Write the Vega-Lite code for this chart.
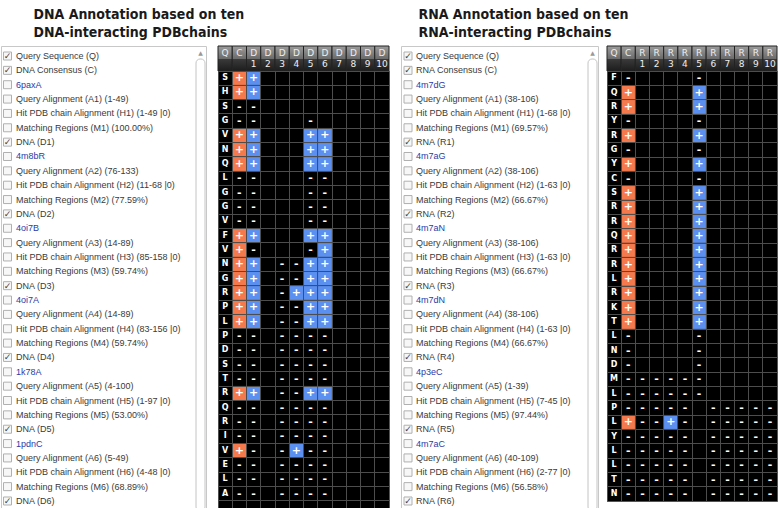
{
  "$schema": "https://vega.github.io/schema/vega-lite/v6.json",
  "padding": {"left": 0, "top": 7, "right": 0, "bottom": 0},
  "background": "white",
  "config": {
    "view": {"stroke": null},
    "title": {"font": "DejaVu Sans Condensed", "fontSize": 14, "fontWeight": "bold", "color": "#1a1a1a", "lineHeight": 18, "anchor": "start", "offset": 6},
    "text": {"font": "Liberation Sans"},
    "axis": {"minExtent": 0, "maxExtent": 0, "labels": false, "ticks": false, "domain": false, "title": null}
  },
  "spacing": 10,
  "hconcat": [
    {
      "title": {"text": ["DNA Annotation based on ten", "DNA-interacting PDBchains"], "dx": 33},
      "spacing": 12,
      "bounds": "flush",
      "hconcat": [
        {
          "width": 205,
          "height": 465,
          "view": {"fill": "white", "stroke": "#c8c8c8"},
          "data": {"values": [
            {"n": 1, "t": "Query Sequence (Q)", "k": 1, "a": 0},
            {"n": 2, "t": "DNA Consensus (C)", "k": 1, "a": 0},
            {"n": 3, "t": "6paxA", "k": 0, "a": 1},
            {"n": 4, "t": "Query Alignment (A1) (1-49)", "k": 0, "a": 0},
            {"n": 5, "t": "Hit PDB chain Alignment (H1) (1-49 |0)", "k": 0, "a": 0},
            {"n": 6, "t": "Matching Regions (M1) (100.00%)", "k": 0, "a": 0},
            {"n": 7, "t": "DNA (D1)", "k": 1, "a": 0},
            {"n": 8, "t": "4m8bR", "k": 0, "a": 1},
            {"n": 9, "t": "Query Alignment (A2) (76-133)", "k": 0, "a": 0},
            {"n": 10, "t": "Hit PDB chain Alignment (H2) (11-68 |0)", "k": 0, "a": 0},
            {"n": 11, "t": "Matching Regions (M2) (77.59%)", "k": 0, "a": 0},
            {"n": 12, "t": "DNA (D2)", "k": 1, "a": 0},
            {"n": 13, "t": "4oi7B", "k": 0, "a": 1},
            {"n": 14, "t": "Query Alignment (A3) (14-89)", "k": 0, "a": 0},
            {"n": 15, "t": "Hit PDB chain Alignment (H3) (85-158 |0)", "k": 0, "a": 0},
            {"n": 16, "t": "Matching Regions (M3) (59.74%)", "k": 0, "a": 0},
            {"n": 17, "t": "DNA (D3)", "k": 1, "a": 0},
            {"n": 18, "t": "4oi7A", "k": 0, "a": 1},
            {"n": 19, "t": "Query Alignment (A4) (14-89)", "k": 0, "a": 0},
            {"n": 20, "t": "Hit PDB chain Alignment (H4) (83-156 |0)", "k": 0, "a": 0},
            {"n": 21, "t": "Matching Regions (M4) (59.74%)", "k": 0, "a": 0},
            {"n": 22, "t": "DNA (D4)", "k": 1, "a": 0},
            {"n": 23, "t": "1k78A", "k": 0, "a": 1},
            {"n": 24, "t": "Query Alignment (A5) (4-100)", "k": 0, "a": 0},
            {"n": 25, "t": "Hit PDB chain Alignment (H5) (1-97 |0)", "k": 0, "a": 0},
            {"n": 26, "t": "Matching Regions (M5) (53.00%)", "k": 0, "a": 0},
            {"n": 27, "t": "DNA (D5)", "k": 1, "a": 0},
            {"n": 28, "t": "1pdnC", "k": 0, "a": 1},
            {"n": 29, "t": "Query Alignment (A6) (5-49)", "k": 0, "a": 0},
            {"n": 30, "t": "Hit PDB chain Alignment (H6) (4-48 |0)", "k": 0, "a": 0},
            {"n": 31, "t": "Matching Regions (M6) (68.89%)", "k": 0, "a": 0},
            {"n": 32, "t": "DNA (D6)", "k": 1, "a": 0}
          ]},
          "layer": [
            {
              "data": {"values": [{}]},
              "mark": {"type": "rect", "fill": "white", "stroke": "#c4c4c4", "strokeWidth": 1, "cornerRadius": 4, "xOffset": -10, "x2Offset": -1, "yOffset": 13},
              "encoding": {
                "x": {"datum": 1, "type": "quantitative", "scale": {"domain": [0, 1]}, "axis": null},
                "x2": {"datum": 1}
              }
            },
            {
              "data": {"values": [{}]},
              "mark": {"type": "text", "text": "▲", "fontSize": 6, "color": "#999", "dx": -5.5, "dy": -3, "font": "DejaVu Sans"},
              "encoding": {
                "x": {"datum": 1, "type": "quantitative", "scale": {"domain": [0, 1]}, "axis": null},
                "y": {"datum": 1, "type": "ordinal", "scale": {"type": "point", "padding": 0.697}, "axis": null}
              }
            },
            {
              "mark": {"type": "point", "shape": "square", "filled": true, "fill": "#f7f7f7", "stroke": "#b0b0b0", "strokeWidth": 1, "size": 64, "opacity": 1, "xOffset": 6.5},
              "encoding": {
                "x": {"datum": 0, "type": "quantitative", "scale": {"domain": [0, 1]}, "axis": null},
                "y": {"field": "n", "type": "ordinal", "scale": {"type": "point", "padding": 0.697}, "axis": null}
              }
            },
            {
              "transform": [{"filter": "datum.k == 1"}],
              "mark": {"type": "text", "text": "✓", "fontSize": 9, "color": "#444", "dx": 6.5, "font": "DejaVu Sans"},
              "encoding": {
                "x": {"datum": 0, "type": "quantitative", "scale": {"domain": [0, 1]}, "axis": null},
                "y": {"field": "n", "type": "ordinal", "scale": {"type": "point", "padding": 0.697}, "axis": null}
              }
            },
            {
              "mark": {"type": "text", "align": "left", "fontSize": 9, "dx": 15, "baseline": "middle"},
              "encoding": {
                "x": {"datum": 0, "type": "quantitative", "scale": {"domain": [0, 1]}, "axis": null},
                "y": {"field": "n", "type": "ordinal", "scale": {"type": "point", "padding": 0.697}, "axis": null},
                "text": {"field": "t"},
                "color": {"condition": {"test": "datum.a == 1", "value": "#2b3aa8"}, "value": "#3a3a3a"}
              }
            }
          ]
        },
        {
          "spacing": 0,
          "bounds": "flush",
          "vconcat": [
            {
              "width": 171,
              "height": 25,
              "data": {"values": [
                {"c": "Q", "l": 1, "t": "Q"}, {"c": "C", "l": 1, "t": "C"},
                {"c": "D1", "l": 1, "t": "D"}, {"c": "D1", "l": 2, "t": "1"},
                {"c": "D2", "l": 1, "t": "D"}, {"c": "D2", "l": 2, "t": "2"},
                {"c": "D3", "l": 1, "t": "D"}, {"c": "D3", "l": 2, "t": "3"},
                {"c": "D4", "l": 1, "t": "D"}, {"c": "D4", "l": 2, "t": "4"},
                {"c": "D5", "l": 1, "t": "D"}, {"c": "D5", "l": 2, "t": "5"},
                {"c": "D6", "l": 1, "t": "D"}, {"c": "D6", "l": 2, "t": "6"},
                {"c": "D7", "l": 1, "t": "D"}, {"c": "D7", "l": 2, "t": "7"},
                {"c": "D8", "l": 1, "t": "D"}, {"c": "D8", "l": 2, "t": "8"},
                {"c": "D9", "l": 1, "t": "D"}, {"c": "D9", "l": 2, "t": "9"},
                {"c": "D10", "l": 1, "t": "D"}, {"c": "D10", "l": 2, "t": "10"}
              ]},
              "encoding": {
                "x": {"field": "c", "type": "nominal", "scale": {"domain": ["Q", "C", "D1", "D2", "D3", "D4", "D5", "D6", "D7", "D8", "D9", "D10"], "paddingInner": 0, "paddingOuter": 0}, "axis": null}
              },
              "layer": [
                {
                  "transform": [{"filter": "datum.l == 1"}],
                  "mark": {"type": "rect", "stroke": "#222", "strokeWidth": 1, "fill": {"gradient": "linear", "x1": 0, "y1": 0, "x2": 0, "y2": 1, "stops": [{"offset": 0, "color": "#9c9c9c"}, {"offset": 0.5, "color": "#6c6c6c"}, {"offset": 0.53, "color": "#3a3a3a"}, {"offset": 1, "color": "#1c1c1c"}]}}
                },
                {
                  "mark": {"type": "text", "fontSize": 9, "font": "DejaVu Sans", "color": "#eeeeee", "baseline": "middle"},
                  "encoding": {
                    "y": {"field": "l", "type": "ordinal", "scale": {"type": "point", "padding": 0.6}, "axis": null},
                    "text": {"field": "t"}
                  }
                }
              ]
            },
            {
              "width": 171,
              "height": 444,
              "view": {"fill": "#000000", "stroke": "#555555"},
              "data": {"values": [
                {"r": 1, "c": "Q", "v": "S"}, {"r": 1, "c": "C", "v": "+"}, {"r": 1, "c": "D1", "v": "+"},
                {"r": 2, "c": "Q", "v": "H"}, {"r": 2, "c": "C", "v": "+"}, {"r": 2, "c": "D1", "v": "+"},
                {"r": 3, "c": "Q", "v": "S"}, {"r": 3, "c": "C", "v": "-"}, {"r": 3, "c": "D1", "v": "-"},
                {"r": 4, "c": "Q", "v": "G"}, {"r": 4, "c": "C", "v": "-"}, {"r": 4, "c": "D1", "v": "-"}, {"r": 4, "c": "D5", "v": "-"},
                {"r": 5, "c": "Q", "v": "V"}, {"r": 5, "c": "C", "v": "+"}, {"r": 5, "c": "D1", "v": "+"}, {"r": 5, "c": "D5", "v": "+"}, {"r": 5, "c": "D6", "v": "+"},
                {"r": 6, "c": "Q", "v": "N"}, {"r": 6, "c": "C", "v": "+"}, {"r": 6, "c": "D1", "v": "+"}, {"r": 6, "c": "D5", "v": "+"}, {"r": 6, "c": "D6", "v": "+"},
                {"r": 7, "c": "Q", "v": "Q"}, {"r": 7, "c": "C", "v": "+"}, {"r": 7, "c": "D1", "v": "+"}, {"r": 7, "c": "D5", "v": "+"}, {"r": 7, "c": "D6", "v": "+"},
                {"r": 8, "c": "Q", "v": "L"}, {"r": 8, "c": "C", "v": "-"}, {"r": 8, "c": "D1", "v": "-"}, {"r": 8, "c": "D5", "v": "-"}, {"r": 8, "c": "D6", "v": "-"},
                {"r": 9, "c": "Q", "v": "G"}, {"r": 9, "c": "C", "v": "-"}, {"r": 9, "c": "D1", "v": "-"}, {"r": 9, "c": "D5", "v": "-"}, {"r": 9, "c": "D6", "v": "-"},
                {"r": 10, "c": "Q", "v": "G"}, {"r": 10, "c": "C", "v": "-"}, {"r": 10, "c": "D1", "v": "-"}, {"r": 10, "c": "D5", "v": "-"}, {"r": 10, "c": "D6", "v": "-"},
                {"r": 11, "c": "Q", "v": "V"}, {"r": 11, "c": "C", "v": "-"}, {"r": 11, "c": "D1", "v": "-"}, {"r": 11, "c": "D5", "v": "-"}, {"r": 11, "c": "D6", "v": "-"},
                {"r": 12, "c": "Q", "v": "F"}, {"r": 12, "c": "C", "v": "+"}, {"r": 12, "c": "D1", "v": "+"}, {"r": 12, "c": "D5", "v": "+"}, {"r": 12, "c": "D6", "v": "+"},
                {"r": 13, "c": "Q", "v": "V"}, {"r": 13, "c": "C", "v": "+"}, {"r": 13, "c": "D1", "v": "-"}, {"r": 13, "c": "D5", "v": "-"}, {"r": 13, "c": "D6", "v": "+"},
                {"r": 14, "c": "Q", "v": "N"}, {"r": 14, "c": "C", "v": "+"}, {"r": 14, "c": "D1", "v": "+"}, {"r": 14, "c": "D3", "v": "-"}, {"r": 14, "c": "D4", "v": "-"}, {"r": 14, "c": "D5", "v": "+"}, {"r": 14, "c": "D6", "v": "+"},
                {"r": 15, "c": "Q", "v": "G"}, {"r": 15, "c": "C", "v": "+"}, {"r": 15, "c": "D1", "v": "+"}, {"r": 15, "c": "D3", "v": "-"}, {"r": 15, "c": "D4", "v": "-"}, {"r": 15, "c": "D5", "v": "+"}, {"r": 15, "c": "D6", "v": "+"},
                {"r": 16, "c": "Q", "v": "R"}, {"r": 16, "c": "C", "v": "+"}, {"r": 16, "c": "D1", "v": "+"}, {"r": 16, "c": "D3", "v": "-"}, {"r": 16, "c": "D4", "v": "+"}, {"r": 16, "c": "D5", "v": "+"}, {"r": 16, "c": "D6", "v": "+"},
                {"r": 17, "c": "Q", "v": "P"}, {"r": 17, "c": "C", "v": "+"}, {"r": 17, "c": "D1", "v": "+"}, {"r": 17, "c": "D3", "v": "-"}, {"r": 17, "c": "D4", "v": "-"}, {"r": 17, "c": "D5", "v": "+"}, {"r": 17, "c": "D6", "v": "+"},
                {"r": 18, "c": "Q", "v": "L"}, {"r": 18, "c": "C", "v": "+"}, {"r": 18, "c": "D1", "v": "+"}, {"r": 18, "c": "D3", "v": "-"}, {"r": 18, "c": "D4", "v": "-"}, {"r": 18, "c": "D5", "v": "+"}, {"r": 18, "c": "D6", "v": "+"},
                {"r": 19, "c": "Q", "v": "P"}, {"r": 19, "c": "C", "v": "-"}, {"r": 19, "c": "D1", "v": "-"}, {"r": 19, "c": "D3", "v": "-"}, {"r": 19, "c": "D4", "v": "-"}, {"r": 19, "c": "D5", "v": "-"}, {"r": 19, "c": "D6", "v": "-"},
                {"r": 20, "c": "Q", "v": "D"}, {"r": 20, "c": "C", "v": "-"}, {"r": 20, "c": "D1", "v": "-"}, {"r": 20, "c": "D3", "v": "-"}, {"r": 20, "c": "D4", "v": "-"}, {"r": 20, "c": "D5", "v": "-"}, {"r": 20, "c": "D6", "v": "-"},
                {"r": 21, "c": "Q", "v": "S"}, {"r": 21, "c": "C", "v": "-"}, {"r": 21, "c": "D1", "v": "-"}, {"r": 21, "c": "D3", "v": "-"}, {"r": 21, "c": "D4", "v": "-"}, {"r": 21, "c": "D5", "v": "-"}, {"r": 21, "c": "D6", "v": "-"},
                {"r": 22, "c": "Q", "v": "T"}, {"r": 22, "c": "C", "v": "-"}, {"r": 22, "c": "D1", "v": "-"}, {"r": 22, "c": "D3", "v": "-"}, {"r": 22, "c": "D4", "v": "-"}, {"r": 22, "c": "D5", "v": "-"}, {"r": 22, "c": "D6", "v": "-"},
                {"r": 23, "c": "Q", "v": "R"}, {"r": 23, "c": "C", "v": "+"}, {"r": 23, "c": "D1", "v": "+"}, {"r": 23, "c": "D3", "v": "-"}, {"r": 23, "c": "D4", "v": "-"}, {"r": 23, "c": "D5", "v": "+"}, {"r": 23, "c": "D6", "v": "+"},
                {"r": 24, "c": "Q", "v": "Q"}, {"r": 24, "c": "C", "v": "-"}, {"r": 24, "c": "D1", "v": "-"}, {"r": 24, "c": "D3", "v": "-"}, {"r": 24, "c": "D4", "v": "-"}, {"r": 24, "c": "D5", "v": "-"}, {"r": 24, "c": "D6", "v": "-"},
                {"r": 25, "c": "Q", "v": "R"}, {"r": 25, "c": "C", "v": "-"}, {"r": 25, "c": "D1", "v": "-"}, {"r": 25, "c": "D3", "v": "-"}, {"r": 25, "c": "D4", "v": "-"}, {"r": 25, "c": "D5", "v": "-"}, {"r": 25, "c": "D6", "v": "-"},
                {"r": 26, "c": "Q", "v": "I"}, {"r": 26, "c": "C", "v": "-"}, {"r": 26, "c": "D1", "v": "-"}, {"r": 26, "c": "D3", "v": "-"}, {"r": 26, "c": "D4", "v": "-"}, {"r": 26, "c": "D5", "v": "-"}, {"r": 26, "c": "D6", "v": "-"},
                {"r": 27, "c": "Q", "v": "V"}, {"r": 27, "c": "C", "v": "+"}, {"r": 27, "c": "D1", "v": "-"}, {"r": 27, "c": "D3", "v": "-"}, {"r": 27, "c": "D4", "v": "+"}, {"r": 27, "c": "D5", "v": "-"}, {"r": 27, "c": "D6", "v": "-"},
                {"r": 28, "c": "Q", "v": "E"}, {"r": 28, "c": "C", "v": "-"}, {"r": 28, "c": "D1", "v": "-"}, {"r": 28, "c": "D3", "v": "-"}, {"r": 28, "c": "D4", "v": "-"}, {"r": 28, "c": "D5", "v": "-"}, {"r": 28, "c": "D6", "v": "-"},
                {"r": 29, "c": "Q", "v": "L"}, {"r": 29, "c": "C", "v": "-"}, {"r": 29, "c": "D1", "v": "-"}, {"r": 29, "c": "D3", "v": "-"}, {"r": 29, "c": "D4", "v": "-"}, {"r": 29, "c": "D5", "v": "-"}, {"r": 29, "c": "D6", "v": "-"},
                {"r": 30, "c": "Q", "v": "A"}, {"r": 30, "c": "C", "v": "-"}, {"r": 30, "c": "D1", "v": "-"}, {"r": 30, "c": "D3", "v": "-"}, {"r": 30, "c": "D4", "v": "-"}, {"r": 30, "c": "D5", "v": "-"}, {"r": 30, "c": "D6", "v": "-"}
              ]},
              "encoding": {
                "x": {"field": "c", "type": "nominal", "scale": {"domain": ["Q", "C", "D1", "D2", "D3", "D4", "D5", "D6", "D7", "D8", "D9", "D10"], "paddingInner": 0, "paddingOuter": 0}, "axis": {"orient": "top", "grid": true, "bandPosition": 0, "gridColor": "#4d4d4d", "gridWidth": 1}},
                "y": {"field": "r", "type": "ordinal", "scale": {"domain": [1, 2, 3, 4, 5, 6, 7, 8, 9, 10, 11, 12, 13, 14, 15, 16, 17, 18, 19, 20, 21, 22, 23, 24, 25, 26, 27, 28, 29, 30, 31], "paddingInner": 0, "paddingOuter": 0}, "axis": {"grid": true, "bandPosition": 0, "gridColor": "#4d4d4d", "gridWidth": 1}}
              },
              "layer": [
                {
                  "transform": [{"filter": "datum.v == '+'"}],
                  "mark": {"type": "rect", "stroke": "#3a3a3a", "strokeWidth": 0.5, "strokeOpacity": 0.5},
                  "encoding": {
                    "color": {"condition": {"test": "datum.c == 'C'", "value": "#f47a4e"}, "value": "#5b8ff0"}
                  }
                },
                {
                  "mark": {"type": "text", "font": "DejaVu Sans", "fontWeight": "bold", "color": "#ffffff", "baseline": "middle"},
                  "encoding": {
                    "text": {"field": "v"},
                    "size": {"condition": {"test": "datum.c == 'Q'", "value": 8}, "value": 11}
                  }
                }
              ]
            }
          ]
        }
      ]
    },
    {
      "title": {"text": ["RNA Annotation based on ten", "RNA-interacting PDBchains"], "dx": 18},
      "spacing": 9,
      "bounds": "flush",
      "hconcat": [
        {
          "width": 197,
          "height": 465,
          "view": {"fill": "white", "stroke": "#c8c8c8"},
          "data": {"values": [
            {"n": 1, "t": "Query Sequence (Q)", "k": 1, "a": 0},
            {"n": 2, "t": "RNA Consensus (C)", "k": 1, "a": 0},
            {"n": 3, "t": "4m7dG", "k": 0, "a": 1},
            {"n": 4, "t": "Query Alignment (A1) (38-106)", "k": 0, "a": 0},
            {"n": 5, "t": "Hit PDB chain Alignment (H1) (1-68 |0)", "k": 0, "a": 0},
            {"n": 6, "t": "Matching Regions (M1) (69.57%)", "k": 0, "a": 0},
            {"n": 7, "t": "RNA (R1)", "k": 1, "a": 0},
            {"n": 8, "t": "4m7aG", "k": 0, "a": 1},
            {"n": 9, "t": "Query Alignment (A2) (38-106)", "k": 0, "a": 0},
            {"n": 10, "t": "Hit PDB chain Alignment (H2) (1-63 |0)", "k": 0, "a": 0},
            {"n": 11, "t": "Matching Regions (M2) (66.67%)", "k": 0, "a": 0},
            {"n": 12, "t": "RNA (R2)", "k": 1, "a": 0},
            {"n": 13, "t": "4m7aN", "k": 0, "a": 1},
            {"n": 14, "t": "Query Alignment (A3) (38-106)", "k": 0, "a": 0},
            {"n": 15, "t": "Hit PDB chain Alignment (H3) (1-63 |0)", "k": 0, "a": 0},
            {"n": 16, "t": "Matching Regions (M3) (66.67%)", "k": 0, "a": 0},
            {"n": 17, "t": "RNA (R3)", "k": 1, "a": 0},
            {"n": 18, "t": "4m7dN", "k": 0, "a": 1},
            {"n": 19, "t": "Query Alignment (A4) (38-106)", "k": 0, "a": 0},
            {"n": 20, "t": "Hit PDB chain Alignment (H4) (1-63 |0)", "k": 0, "a": 0},
            {"n": 21, "t": "Matching Regions (M4) (66.67%)", "k": 0, "a": 0},
            {"n": 22, "t": "RNA (R4)", "k": 1, "a": 0},
            {"n": 23, "t": "4p3eC", "k": 0, "a": 1},
            {"n": 24, "t": "Query Alignment (A5) (1-39)", "k": 0, "a": 0},
            {"n": 25, "t": "Hit PDB chain Alignment (H5) (7-45 |0)", "k": 0, "a": 0},
            {"n": 26, "t": "Matching Regions (M5) (97.44%)", "k": 0, "a": 0},
            {"n": 27, "t": "RNA (R5)", "k": 1, "a": 0},
            {"n": 28, "t": "4m7aC", "k": 0, "a": 1},
            {"n": 29, "t": "Query Alignment (A6) (40-109)", "k": 0, "a": 0},
            {"n": 30, "t": "Hit PDB chain Alignment (H6) (2-77 |0)", "k": 0, "a": 0},
            {"n": 31, "t": "Matching Regions (M6) (56.58%)", "k": 0, "a": 0},
            {"n": 32, "t": "RNA (R6)", "k": 1, "a": 0}
          ]},
          "layer": [
            {
              "data": {"values": [{}]},
              "mark": {"type": "rect", "fill": "white", "stroke": "#c4c4c4", "strokeWidth": 1, "cornerRadius": 4, "xOffset": -10, "x2Offset": -1, "yOffset": 13},
              "encoding": {
                "x": {"datum": 1, "type": "quantitative", "scale": {"domain": [0, 1]}, "axis": null},
                "x2": {"datum": 1}
              }
            },
            {
              "data": {"values": [{}]},
              "mark": {"type": "text", "text": "▲", "fontSize": 6, "color": "#999", "dx": -5.5, "dy": -3, "font": "DejaVu Sans"},
              "encoding": {
                "x": {"datum": 1, "type": "quantitative", "scale": {"domain": [0, 1]}, "axis": null},
                "y": {"datum": 1, "type": "ordinal", "scale": {"type": "point", "padding": 0.697}, "axis": null}
              }
            },
            {
              "mark": {"type": "point", "shape": "square", "filled": true, "fill": "#f7f7f7", "stroke": "#b0b0b0", "strokeWidth": 1, "size": 64, "opacity": 1, "xOffset": 7},
              "encoding": {
                "x": {"datum": 0, "type": "quantitative", "scale": {"domain": [0, 1]}, "axis": null},
                "y": {"field": "n", "type": "ordinal", "scale": {"type": "point", "padding": 0.697}, "axis": null}
              }
            },
            {
              "transform": [{"filter": "datum.k == 1"}],
              "mark": {"type": "text", "text": "✓", "fontSize": 9, "color": "#444", "dx": 7, "font": "DejaVu Sans"},
              "encoding": {
                "x": {"datum": 0, "type": "quantitative", "scale": {"domain": [0, 1]}, "axis": null},
                "y": {"field": "n", "type": "ordinal", "scale": {"type": "point", "padding": 0.697}, "axis": null}
              }
            },
            {
              "mark": {"type": "text", "align": "left", "fontSize": 9, "dx": 15, "baseline": "middle"},
              "encoding": {
                "x": {"datum": 0, "type": "quantitative", "scale": {"domain": [0, 1]}, "axis": null},
                "y": {"field": "n", "type": "ordinal", "scale": {"type": "point", "padding": 0.697}, "axis": null},
                "text": {"field": "t"},
                "color": {"condition": {"test": "datum.a == 1", "value": "#2b3aa8"}, "value": "#3a3a3a"}
              }
            }
          ]
        },
        {
          "spacing": 0,
          "bounds": "flush",
          "vconcat": [
            {
              "width": 170,
              "height": 25,
              "data": {"values": [
                {"c": "Q", "l": 1, "t": "Q"}, {"c": "C", "l": 1, "t": "C"},
                {"c": "R1", "l": 1, "t": "R"}, {"c": "R1", "l": 2, "t": "1"},
                {"c": "R2", "l": 1, "t": "R"}, {"c": "R2", "l": 2, "t": "2"},
                {"c": "R3", "l": 1, "t": "R"}, {"c": "R3", "l": 2, "t": "3"},
                {"c": "R4", "l": 1, "t": "R"}, {"c": "R4", "l": 2, "t": "4"},
                {"c": "R5", "l": 1, "t": "R"}, {"c": "R5", "l": 2, "t": "5"},
                {"c": "R6", "l": 1, "t": "R"}, {"c": "R6", "l": 2, "t": "6"},
                {"c": "R7", "l": 1, "t": "R"}, {"c": "R7", "l": 2, "t": "7"},
                {"c": "R8", "l": 1, "t": "R"}, {"c": "R8", "l": 2, "t": "8"},
                {"c": "R9", "l": 1, "t": "R"}, {"c": "R9", "l": 2, "t": "9"},
                {"c": "R10", "l": 1, "t": "R"}, {"c": "R10", "l": 2, "t": "10"}
              ]},
              "encoding": {
                "x": {"field": "c", "type": "nominal", "scale": {"domain": ["Q", "C", "R1", "R2", "R3", "R4", "R5", "R6", "R7", "R8", "R9", "R10"], "paddingInner": 0, "paddingOuter": 0}, "axis": null}
              },
              "layer": [
                {
                  "transform": [{"filter": "datum.l == 1"}],
                  "mark": {"type": "rect", "stroke": "#222", "strokeWidth": 1, "fill": {"gradient": "linear", "x1": 0, "y1": 0, "x2": 0, "y2": 1, "stops": [{"offset": 0, "color": "#9c9c9c"}, {"offset": 0.5, "color": "#6c6c6c"}, {"offset": 0.53, "color": "#3a3a3a"}, {"offset": 1, "color": "#1c1c1c"}]}}
                },
                {
                  "mark": {"type": "text", "fontSize": 9, "font": "DejaVu Sans", "color": "#eeeeee", "baseline": "middle"},
                  "encoding": {
                    "y": {"field": "l", "type": "ordinal", "scale": {"type": "point", "padding": 0.6}, "axis": null},
                    "text": {"field": "t"}
                  }
                }
              ]
            },
            {
              "width": 170,
              "height": 430,
              "view": {"fill": "#000000", "stroke": "#555555"},
              "data": {"values": [
                {"r": 1, "c": "Q", "v": "F"}, {"r": 1, "c": "C", "v": "-"}, {"r": 1, "c": "R5", "v": "-"},
                {"r": 2, "c": "Q", "v": "Q"}, {"r": 2, "c": "C", "v": "+"}, {"r": 2, "c": "R5", "v": "+"},
                {"r": 3, "c": "Q", "v": "R"}, {"r": 3, "c": "C", "v": "+"}, {"r": 3, "c": "R5", "v": "+"},
                {"r": 4, "c": "Q", "v": "Y"}, {"r": 4, "c": "C", "v": "-"}, {"r": 4, "c": "R5", "v": "-"},
                {"r": 5, "c": "Q", "v": "R"}, {"r": 5, "c": "C", "v": "+"}, {"r": 5, "c": "R5", "v": "+"},
                {"r": 6, "c": "Q", "v": "G"}, {"r": 6, "c": "C", "v": "-"}, {"r": 6, "c": "R5", "v": "-"},
                {"r": 7, "c": "Q", "v": "Y"}, {"r": 7, "c": "C", "v": "+"}, {"r": 7, "c": "R5", "v": "+"},
                {"r": 8, "c": "Q", "v": "C"}, {"r": 8, "c": "C", "v": "-"}, {"r": 8, "c": "R5", "v": "-"},
                {"r": 9, "c": "Q", "v": "S"}, {"r": 9, "c": "C", "v": "+"}, {"r": 9, "c": "R5", "v": "+"},
                {"r": 10, "c": "Q", "v": "R"}, {"r": 10, "c": "C", "v": "+"}, {"r": 10, "c": "R5", "v": "+"},
                {"r": 11, "c": "Q", "v": "R"}, {"r": 11, "c": "C", "v": "+"}, {"r": 11, "c": "R5", "v": "+"},
                {"r": 12, "c": "Q", "v": "Q"}, {"r": 12, "c": "C", "v": "+"}, {"r": 12, "c": "R5", "v": "+"},
                {"r": 13, "c": "Q", "v": "R"}, {"r": 13, "c": "C", "v": "+"}, {"r": 13, "c": "R5", "v": "+"},
                {"r": 14, "c": "Q", "v": "R"}, {"r": 14, "c": "C", "v": "+"}, {"r": 14, "c": "R5", "v": "+"},
                {"r": 15, "c": "Q", "v": "L"}, {"r": 15, "c": "C", "v": "+"}, {"r": 15, "c": "R5", "v": "+"},
                {"r": 16, "c": "Q", "v": "R"}, {"r": 16, "c": "C", "v": "+"}, {"r": 16, "c": "R5", "v": "+"},
                {"r": 17, "c": "Q", "v": "K"}, {"r": 17, "c": "C", "v": "+"}, {"r": 17, "c": "R5", "v": "+"},
                {"r": 18, "c": "Q", "v": "T"}, {"r": 18, "c": "C", "v": "+"}, {"r": 18, "c": "R5", "v": "+"},
                {"r": 19, "c": "Q", "v": "L"}, {"r": 19, "c": "C", "v": "-"}, {"r": 19, "c": "R5", "v": "-"},
                {"r": 20, "c": "Q", "v": "N"}, {"r": 20, "c": "C", "v": "-"}, {"r": 20, "c": "R5", "v": "-"},
                {"r": 21, "c": "Q", "v": "D"}, {"r": 21, "c": "C", "v": "-"}, {"r": 21, "c": "R5", "v": "-"},
                {"r": 22, "c": "Q", "v": "M"}, {"r": 22, "c": "C", "v": "-"}, {"r": 22, "c": "R1", "v": "-"}, {"r": 22, "c": "R2", "v": "-"}, {"r": 22, "c": "R3", "v": "-"}, {"r": 22, "c": "R4", "v": "-"}, {"r": 22, "c": "R5", "v": "-"},
                {"r": 23, "c": "Q", "v": "L"}, {"r": 23, "c": "C", "v": "-"}, {"r": 23, "c": "R1", "v": "-"}, {"r": 23, "c": "R2", "v": "-"}, {"r": 23, "c": "R3", "v": "-"}, {"r": 23, "c": "R4", "v": "-"}, {"r": 23, "c": "R5", "v": "-"},
                {"r": 24, "c": "Q", "v": "P"}, {"r": 24, "c": "C", "v": "-"}, {"r": 24, "c": "R1", "v": "-"}, {"r": 24, "c": "R2", "v": "-"}, {"r": 24, "c": "R3", "v": "-"}, {"r": 24, "c": "R4", "v": "-"}, {"r": 24, "c": "R6", "v": "-"}, {"r": 24, "c": "R7", "v": "-"}, {"r": 24, "c": "R8", "v": "-"}, {"r": 24, "c": "R9", "v": "-"}, {"r": 24, "c": "R10", "v": "-"},
                {"r": 25, "c": "Q", "v": "L"}, {"r": 25, "c": "C", "v": "+"}, {"r": 25, "c": "R1", "v": "-"}, {"r": 25, "c": "R2", "v": "-"}, {"r": 25, "c": "R3", "v": "+"}, {"r": 25, "c": "R4", "v": "-"}, {"r": 25, "c": "R6", "v": "-"}, {"r": 25, "c": "R7", "v": "-"}, {"r": 25, "c": "R8", "v": "-"}, {"r": 25, "c": "R9", "v": "-"}, {"r": 25, "c": "R10", "v": "-"},
                {"r": 26, "c": "Q", "v": "Y"}, {"r": 26, "c": "C", "v": "-"}, {"r": 26, "c": "R1", "v": "-"}, {"r": 26, "c": "R2", "v": "-"}, {"r": 26, "c": "R3", "v": "-"}, {"r": 26, "c": "R4", "v": "-"}, {"r": 26, "c": "R6", "v": "-"}, {"r": 26, "c": "R7", "v": "-"}, {"r": 26, "c": "R8", "v": "-"}, {"r": 26, "c": "R9", "v": "-"}, {"r": 26, "c": "R10", "v": "-"},
                {"r": 27, "c": "Q", "v": "L"}, {"r": 27, "c": "C", "v": "-"}, {"r": 27, "c": "R1", "v": "-"}, {"r": 27, "c": "R2", "v": "-"}, {"r": 27, "c": "R3", "v": "-"}, {"r": 27, "c": "R4", "v": "-"}, {"r": 27, "c": "R6", "v": "-"}, {"r": 27, "c": "R7", "v": "-"}, {"r": 27, "c": "R8", "v": "-"}, {"r": 27, "c": "R9", "v": "-"}, {"r": 27, "c": "R10", "v": "-"},
                {"r": 28, "c": "Q", "v": "L"}, {"r": 28, "c": "C", "v": "-"}, {"r": 28, "c": "R1", "v": "-"}, {"r": 28, "c": "R2", "v": "-"}, {"r": 28, "c": "R3", "v": "-"}, {"r": 28, "c": "R4", "v": "-"}, {"r": 28, "c": "R6", "v": "-"}, {"r": 28, "c": "R7", "v": "-"}, {"r": 28, "c": "R8", "v": "-"}, {"r": 28, "c": "R9", "v": "-"}, {"r": 28, "c": "R10", "v": "-"},
                {"r": 29, "c": "Q", "v": "T"}, {"r": 29, "c": "C", "v": "-"}, {"r": 29, "c": "R1", "v": "-"}, {"r": 29, "c": "R2", "v": "-"}, {"r": 29, "c": "R3", "v": "-"}, {"r": 29, "c": "R4", "v": "-"}, {"r": 29, "c": "R6", "v": "-"}, {"r": 29, "c": "R7", "v": "-"}, {"r": 29, "c": "R8", "v": "-"}, {"r": 29, "c": "R9", "v": "-"}, {"r": 29, "c": "R10", "v": "-"},
                {"r": 30, "c": "Q", "v": "N"}, {"r": 30, "c": "C", "v": "-"}, {"r": 30, "c": "R1", "v": "-"}, {"r": 30, "c": "R2", "v": "-"}, {"r": 30, "c": "R3", "v": "-"}, {"r": 30, "c": "R4", "v": "-"}, {"r": 30, "c": "R6", "v": "-"}, {"r": 30, "c": "R7", "v": "-"}, {"r": 30, "c": "R8", "v": "-"}, {"r": 30, "c": "R9", "v": "-"}, {"r": 30, "c": "R10", "v": "-"}
              ]},
              "encoding": {
                "x": {"field": "c", "type": "nominal", "scale": {"domain": ["Q", "C", "R1", "R2", "R3", "R4", "R5", "R6", "R7", "R8", "R9", "R10"], "paddingInner": 0, "paddingOuter": 0}, "axis": {"orient": "top", "grid": true, "bandPosition": 0, "gridColor": "#4d4d4d", "gridWidth": 1}},
                "y": {"field": "r", "type": "ordinal", "scale": {"domain": [1, 2, 3, 4, 5, 6, 7, 8, 9, 10, 11, 12, 13, 14, 15, 16, 17, 18, 19, 20, 21, 22, 23, 24, 25, 26, 27, 28, 29, 30], "paddingInner": 0, "paddingOuter": 0}, "axis": {"grid": true, "bandPosition": 0, "gridColor": "#4d4d4d", "gridWidth": 1}}
              },
              "layer": [
                {
                  "transform": [{"filter": "datum.v == '+'"}],
                  "mark": {"type": "rect", "stroke": "#3a3a3a", "strokeWidth": 0.5, "strokeOpacity": 0.5},
                  "encoding": {
                    "color": {"condition": {"test": "datum.c == 'C'", "value": "#f47a4e"}, "value": "#5b8ff0"}
                  }
                },
                {
                  "mark": {"type": "text", "font": "DejaVu Sans", "fontWeight": "bold", "color": "#ffffff", "baseline": "middle"},
                  "encoding": {
                    "text": {"field": "v"},
                    "size": {"condition": {"test": "datum.c == 'Q'", "value": 8}, "value": 11}
                  }
                }
              ]
            }
          ]
        }
      ]
    }
  ]
}
